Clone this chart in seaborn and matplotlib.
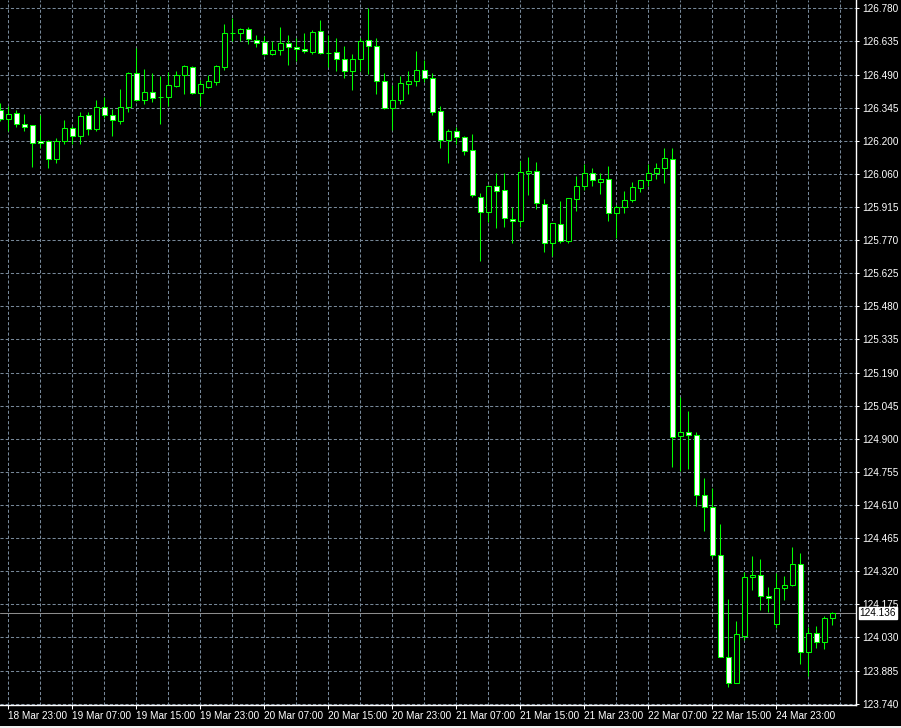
# USDJPY-style H1 candlestick chart (MetaTrader look)
import numpy as np
import pandas as pd
import matplotlib
matplotlib.use("Agg")
import matplotlib.pyplot as plt
import seaborn as sns
from matplotlib.patches import Rectangle

# OHLC data, one hourly bar each
opens = [126.335, 126.295, 126.321, 126.273, 126.268, 126.199, 126.199, 126.120, 126.199, 126.255,
         126.220, 126.312, 126.254, 126.347, 126.312, 126.286, 126.347, 126.497, 126.378, 126.413,
         126.391, 126.391, 126.442, 126.488, 126.522, 126.408, 126.437, 126.457, 126.525, 126.671,
         126.671, 126.688, 126.640, 126.631, 126.579, 126.596, 126.627, 126.610, 126.601, 126.588,
         126.680, 126.586, 126.588, 126.557, 126.505, 126.557, 126.640, 126.614, 126.461, 126.343,
         126.378, 126.448, 126.464, 126.509, 126.474, 126.330, 126.203, 126.242, 126.216, 126.159,
         125.954, 125.891, 126.002, 125.984, 125.860, 125.849, 126.059, 126.067, 125.923, 125.753,
         125.836, 125.761, 125.945, 126.002, 126.059, 126.019, 126.032, 125.884, 125.910, 125.941,
         125.993, 126.028, 126.059, 126.080, 126.120, 124.909, 124.926, 124.913, 124.651, 124.598,
         124.389, 123.945, 123.832, 124.037, 124.292, 124.301, 124.209, 124.090, 124.244, 124.257,
         124.351, 123.967, 124.048, 124.008, 124.113]
highs = [126.366, 126.353, 126.335, 126.318, 126.270, 126.314, 126.204, 126.212, 126.292, 126.265,
         126.327, 126.327, 126.379, 126.392, 126.338, 126.427, 126.503, 126.606, 126.515, 126.497,
         126.484, 126.501, 126.507, 126.532, 126.528, 126.467, 126.488, 126.532, 126.711, 126.738,
         126.693, 126.697, 126.663, 126.660, 126.636, 126.698, 126.663, 126.649, 126.672, 126.685,
         126.729, 126.663, 126.650, 126.615, 126.580, 126.650, 126.781, 126.650, 126.496, 126.443,
         126.484, 126.506, 126.593, 126.554, 126.496, 126.352, 126.251, 126.262, 126.222, 126.231,
         125.971, 126.006, 126.060, 126.059, 125.913, 126.112, 126.130, 126.108, 125.946, 125.842,
         125.938, 125.950, 126.047, 126.099, 126.082, 126.059, 126.091, 125.919, 125.981, 126.021,
         126.030, 126.099, 126.104, 126.169, 126.169, 125.079, 125.019, 124.926, 124.727, 124.681,
         124.525, 124.198, 124.101, 124.314, 124.386, 124.371, 124.249, 124.312, 124.298, 124.425,
         124.397, 124.076, 124.078, 124.125, 124.141]
lows = [126.287, 126.245, 126.262, 126.245, 126.088, 126.171, 126.084, 126.105, 126.187, 126.187,
        126.187, 126.226, 126.245, 126.299, 126.222, 126.273, 126.328, 126.375, 126.363, 126.372,
        126.276, 126.352, 126.437, 126.407, 126.405, 126.352, 126.430, 126.445, 126.512, 126.637,
        126.637, 126.625, 126.612, 126.578, 126.575, 126.575, 126.533, 126.550, 126.583, 126.579,
        126.579, 126.525, 126.507, 126.477, 126.424, 126.507, 126.494, 126.407, 126.338, 126.247,
        126.360, 126.407, 126.442, 126.459, 126.312, 126.171, 126.105, 126.185, 126.140, 125.956,
        125.677, 125.847, 125.821, 125.825, 125.755, 125.825, 125.964, 125.904, 125.716, 125.696,
        125.753, 125.755, 125.895, 125.984, 126.002, 125.967, 125.849, 125.774, 125.884, 125.932,
        125.976, 126.002, 126.035, 126.015, 124.776, 124.758, 124.764, 124.605, 124.496, 124.382,
        123.943, 123.811, 123.829, 124.020, 124.238, 124.151, 124.142, 124.069, 124.192, 124.255,
        123.913, 123.862, 123.985, 123.980, 124.084]
closes = [126.296, 126.317, 126.273, 126.262, 126.190, 126.190, 126.120, 126.199, 126.255, 126.220,
          126.308, 126.251, 126.347, 126.312, 126.290, 126.347, 126.497, 126.378, 126.413, 126.389,
          126.391, 126.443, 126.488, 126.526, 126.408, 126.448, 126.461, 126.526, 126.671, 126.671,
          126.688, 126.645, 126.627, 126.579, 126.596, 126.627, 126.610, 126.601, 126.592, 126.675,
          126.583, 126.585, 126.557, 126.505, 126.557, 126.636, 126.614, 126.461, 126.343, 126.378,
          126.452, 126.461, 126.509, 126.474, 126.328, 126.203, 126.242, 126.216, 126.155, 125.962,
          125.888, 126.002, 125.980, 125.862, 125.850, 126.063, 126.067, 125.928, 125.753, 125.840,
          125.761, 125.949, 126.002, 126.059, 126.028, 126.032, 125.884, 125.910, 125.941, 125.997,
          126.028, 126.059, 126.080, 126.124, 124.907, 124.926, 124.915, 124.651, 124.601, 124.389,
          123.945, 123.829, 124.043, 124.292, 124.301, 124.209, 124.201, 124.244, 124.257, 124.351,
          123.964, 124.048, 124.008, 124.113, 124.136]

# axis labels
time_labels = ["18 Mar 23:00", "19 Mar 07:00", "19 Mar 15:00", "19 Mar 23:00", "20 Mar 07:00",
               "20 Mar 15:00", "20 Mar 23:00", "21 Mar 07:00", "21 Mar 15:00", "21 Mar 23:00",
               "22 Mar 07:00", "22 Mar 15:00", "24 Mar 23:00"]
price_labels = ["123.740", "123.885", "124.030", "124.175", "124.320", "124.465", "124.610",
                "124.755", "124.900", "125.045", "125.190", "125.335", "125.480", "125.625",
                "125.770", "125.915", "126.060", "126.200", "126.345", "126.490", "126.635",
                "126.780"]
last_price = 124.136

df = pd.DataFrame({"open": opens, "high": highs, "low": lows, "close": closes})
df["bar"] = np.arange(len(df))
df["bull"] = df["close"] >= df["open"]

# Style
sns.set_theme(style="dark", rc={"axes.facecolor": "black", "figure.facecolor": "black"})
plt.rcParams["font.family"] = ["Liberation Sans", "DejaVu Sans"]

green = "#00ff00"
grid_col = "#778899"

fig = plt.figure(figsize=(9.01, 7.28), dpi=100)
ax = fig.add_axes([0, 23 / 728, 856 / 901, 705 / 728])
ax.set_facecolor("black")

# wicks
ax.vlines(df["bar"], df["low"], df["high"], color=green, linewidth=0.75, zorder=3)

# bodies: bull = black, bear = white
body_bottom = df[["open", "close"]].min(axis=1)
body_height = (df["close"] - df["open"]).abs()
fills = np.where(df["bull"], "black", "white")
ax.bar(df["bar"], body_height, bottom=body_bottom, width=0.55, color=fills,
       edgecolor=green, linewidth=0.75, zorder=4)

# current price line + label
ax.axhline(last_price, color="#8c8c8c", linewidth=0.75, zorder=2)
ax.text(1.004, last_price, f"{last_price:.3f}", transform=ax.get_yaxis_transform(),
        ha="left", va="center", fontsize=7.2, color="black", clip_on=False, zorder=10,
        bbox=dict(boxstyle="square,pad=0.08", facecolor="white", edgecolor="white"))

# axes ranges
ax.set_xlim(-0.04, 106.96)
ax.set_ylim(123.7343, 126.8163)

# y axis on the right
price_ticks = np.linspace(float(price_labels[0]), float(price_labels[-1]), len(price_labels))
ax.yaxis.tick_right()
ax.set_yticks(price_ticks)
ax.set_yticklabels(price_labels)
ax.tick_params(axis="y", colors="white", labelcolor="white", labelsize=7.2,
               length=2.5, width=0.75, pad=2, right=True, left=False)

# x axis: labels every 8 bars, grid every 4 bars
ax.set_xticks(np.arange(1, 1 + 8 * len(time_labels), 8))
ax.set_xticklabels(time_labels, ha="left")
ax.set_xticks(np.arange(1, 107, 4), minor=True)
ax.tick_params(axis="x", which="major", colors="white", labelcolor="white", labelsize=7.2,
               length=3, width=0.75, pad=1.5, bottom=True)
ax.tick_params(axis="x", which="minor", length=0)

ax.grid(True, which="both", axis="x", color=grid_col, linestyle=(0, (3, 2)), linewidth=0.75)
ax.grid(True, which="major", axis="y", color=grid_col, linestyle=(0, (3, 2)), linewidth=0.75)
ax.set_axisbelow(True)

for side in ["top", "left"]:
    ax.spines[side].set_visible(False)
for side in ["right", "bottom"]:
    ax.spines[side].set_visible(True)
    ax.spines[side].set_color("white")
    ax.spines[side].set_linewidth(1)

# light window border at the bottom
fig.patches.append(Rectangle((0, 0), 1, 2 / 728, transform=fig.transFigure,
                             facecolor="#f0f0f0", edgecolor="none"))

fig.savefig("out.png", dpi=100, facecolor="black")
